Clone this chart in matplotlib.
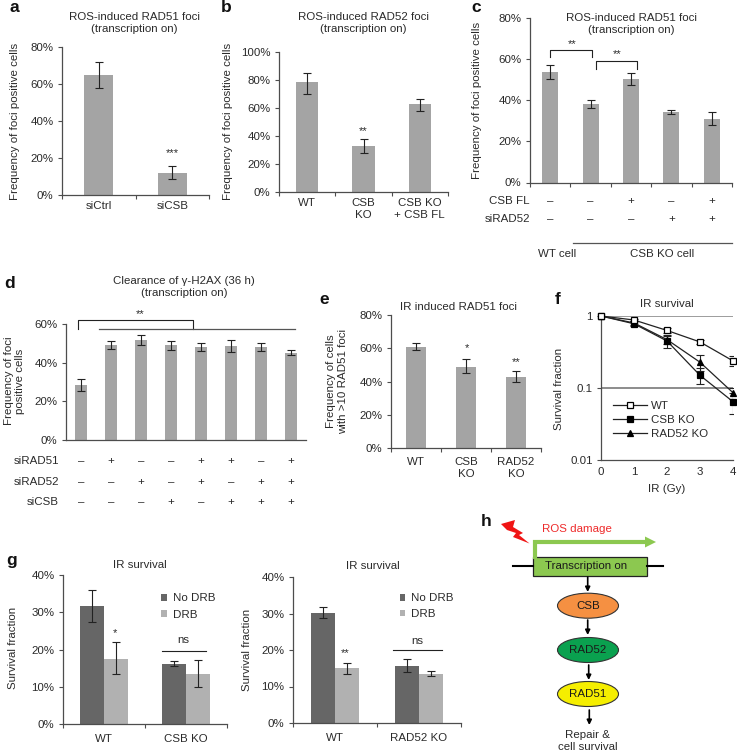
import matplotlib
matplotlib.use('Agg')
import matplotlib.pyplot as plt
from matplotlib.patches import Ellipse, Rectangle, Polygon
from matplotlib.ticker import FixedLocator, NullLocator, FixedFormatter, FuncFormatter, NullFormatter

plt.rcParams['font.family'] = ['Liberation Sans', 'DejaVu Sans']
plt.rcParams['font.size'] = 8.25

W, H = 737, 754
TXT = '#2a2a2a'; AX = '#4d4d4d'; BAR = '#a4a4a4'; DARK = '#666666'; LIGHT = '#b1b1b1'; ERR = '#222222'

# ---- data ----
a_cats = ['siCtrl', 'siCSB']
a_vals = [65, 12]; a_lo = [58, 8.5]; a_hi = [72, 15.5]
b_cats = ['WT', 'CSB\nKO', 'CSB KO\n+ CSB FL']
b_vals = [78, 32.5, 62.5]; b_lo = [70, 27.5, 58]; b_hi = [85, 37.5, 66.5]
c_vals = [53.5, 38, 50, 34, 31]; c_lo = [50, 36, 47.5, 33.3, 28]; c_hi = [57, 40, 53, 35, 34]
c_rows = ['CSB FL', 'siRAD52']
c_signs = [['–', '–', '+', '–', '+'], ['–', '–', '–', '+', '+']]
d_vals = [28.5, 49, 51.5, 49, 48, 48.8, 48.3, 45]
d_lo = [25.5, 47, 49, 46.8, 46, 45.5, 46, 43.8]
d_hi = [31.5, 51, 54.5, 51, 50, 51.5, 50, 46.5]
d_rows = ['siRAD51', 'siRAD52', 'siCSB']
d_signs = [['–', '+', '–', '–', '+', '+', '–', '+'],
           ['–', '–', '+', '–', '+', '–', '+', '+'],
           ['–', '–', '–', '+', '–', '+', '+', '+']]
e_cats = ['WT', 'CSB\nKO', 'RAD52\nKO']
e_vals = [61, 49, 43]; e_lo = [59, 45, 39.5]; e_hi = [63, 53.5, 46.5]
f_dose = [0, 1, 2, 3, 4]
f_wt = [1, .88, .63, .436, .238]; f_wt_lo = [1, .84, .58, .41, .2]; f_wt_hi = [1, .92, .68, .46, .28]
f_csb = [1, .78, .45, .15, .0645]; f_csb_lo = [1, .72, .36, .115, .043]; f_csb_hi = [1, .84, .55, .19, .085]
f_rad = [1, .8, .47, .228, .086]; f_rad_lo = [1, .74, .41, .17, .07]; f_rad_hi = [1, .86, .53, .29, .1]
g1_cats = ['WT', 'CSB KO']
g1_nodrb = [31.7, 16.2]; g1_nodrb_lo = [27.5, 15.6]; g1_nodrb_hi = [36, 17]
g1_drb = [17.5, 13.5]; g1_drb_lo = [13.3, 10]; g1_drb_hi = [22, 17.2]
g2_cats = ['WT', 'RAD52 KO']
g2_nodrb = [30.2, 15.6]; g2_nodrb_lo = [28.8, 14]; g2_nodrb_hi = [31.7, 17.4]
g2_drb = [15, 13.5]; g2_drb_lo = [13.3, 12.8]; g2_drb_hi = [16.5, 14.3]
T_ROS51 = 'ROS-induced RAD51 foci\n(transcription on)'
T_ROS52 = 'ROS-induced RAD52 foci\n(transcription on)'

fig = plt.figure(figsize=(W / 100, H / 100), dpi=100)
ov = fig.add_axes([0, 0, 1, 1], zorder=10)
ov.set_xlim(0, W); ov.set_ylim(H, 0); ov.axis('off'); ov.patch.set_alpha(0)
px = ov.transData


def T(x, y, s, ha='center', va='center', color=TXT, **kw):
    return ov.text(x, y, s, ha=ha, va=va, color=color, **kw)


def make_ax(x0, x1, ybot, ytop, ylabel, lx, ly, title, tx, ty):
    ax = fig.add_axes([x0 / W, 1 - ybot / H, (x1 - x0) / W, (ybot - ytop) / H])
    for s in ('top', 'right'):
        ax.spines[s].set_visible(False)
    for s in ('left', 'bottom'):
        ax.spines[s].set_color(AX); ax.spines[s].set_linewidth(0.9)
    ax.tick_params(axis='both', which='major', length=2.7, width=0.8, color=AX, labelcolor=TXT, pad=3.4)
    ax.patch.set_alpha(0)
    ax.set_ylabel(ylabel, color=TXT, va='center', ha='center', linespacing=1.2)
    ax.yaxis.set_label_coords(lx, ly, transform=px)
    ax.set_title(title, color=TXT, fontsize=8.25, va='center', linespacing=1.2,
                 x=(tx - x0) / (x1 - x0), y=(ybot - ty) / (ybot - ytop), pad=0)
    return ax


def pct_axis(ax, top, step):
    ax.set_ylim(0, top)
    ax.set_yticks(list(range(0, top + 1, step)))
    ax.yaxis.set_major_formatter(FuncFormatter(lambda v, p: f'{int(v)}%'))


def cat_axis(ax, n, labels=None, pad=4.6, ticks=True):
    ax.set_xlim(-0.5, n - 0.5)
    ax.set_xticks([i - 0.5 for i in range(n + 1)] if ticks else [])
    ax.set_xticklabels([] if not ticks else [''] * (n + 1))
    if labels:
        ax.set_xticks(list(range(n)), labels=labels, minor=True)
        ax.tick_params(axis='x', which='minor', length=0, pad=pad, labelcolor=TXT)
        for l in ax.get_xticklabels(minor=True):
            l.set_linespacing(1.2)


def err(ax, xs, vals, lo, hi, cap=2.9):
    ax.errorbar(xs, vals, yerr=[[v - l for v, l in zip(vals, lo)], [h - v for v, h in zip(vals, hi)]],
                fmt='none', ecolor=ERR, elinewidth=0.8, capsize=cap, capthick=0.8, zorder=5)


def bars(ax, vals, lo, hi, w=0.4):
    xs = list(range(len(vals)))
    ax.bar(xs, vals, width=w, color=BAR, zorder=2)
    err(ax, xs, vals, lo, hi)
    return xs


# a
ax = make_ax(62, 209, 195, 47, 'Frequency of foci positive cells', 15, 121, T_ROS51, 134, 23)
pct_axis(ax, 80, 20); cat_axis(ax, 2, a_cats); bars(ax, a_vals, a_lo, a_hi)
# b
ax = make_ax(279, 448, 192, 51.5, 'Frequency of foci positive cells', 228, 121, T_ROS52, 363, 23)
pct_axis(ax, 100, 20); cat_axis(ax, 3, b_cats); bars(ax, b_vals, b_lo, b_hi)
# c
ax = make_ax(530, 732, 182.5, 17.5, 'Frequency of foci positive cells', 477, 100, T_ROS51, 631, 24)
pct_axis(ax, 80, 20); cat_axis(ax, 5); xs_c = bars(ax, c_vals, c_lo, c_hi)
for row, signs, y in zip(c_rows, c_signs, (201, 219)):
    T(530, y, row, ha='right')
    for i, s in enumerate(signs):
        T(550.2 + 40.4 * i, y, s)
# d
ax = make_ax(66, 306, 440, 324, 'Frequency of foci\npositive cells', 14.5, 381,
             'Clearance of γ-H2AX (36 h)\n(transcription on)', 184, 287)
pct_axis(ax, 60, 20); cat_axis(ax, 8, ticks=False); bars(ax, d_vals, d_lo, d_hi)
ax.tick_params(axis='x', length=0)
for row, signs, y in zip(d_rows, d_signs, (461, 482, 502)):
    T(59, y, row, ha='right')
    for i, s in enumerate(signs):
        T(81 + 30 * i, y, s)
# e
ax = make_ax(391, 541, 448, 315, 'Frequency of cells\nwith >10 RAD51 foci', 337, 381, 'IR induced RAD51 foci', 458, 307)
pct_axis(ax, 80, 20); cat_axis(ax, 3, e_cats, pad=6.5); bars(ax, e_vals, e_lo, e_hi)
# f
ax = make_ax(601, 733, 460, 316, 'Survival fraction', 559, 389, 'IR survival', 667, 304)
ax.set_yscale('log'); ax.set_ylim(0.01, 1); ax.set_xlim(0, 4)
ax.yaxis.set_major_locator(FixedLocator([0.01, 0.1, 1]))
ax.yaxis.set_major_formatter(FixedFormatter(['0.01', '0.1', '1']))
ax.yaxis.set_minor_locator(NullLocator()); ax.yaxis.set_minor_formatter(NullFormatter())
ax.set_xticks(f_dose)
ax.tick_params(axis='x', length=0, pad=5)
ax.set_xlabel('IR (Gy)', color=TXT); ax.xaxis.set_label_coords(667, 489, transform=px)
ax.xaxis.label.set_va('center')
ax.axhline(0.1, color='#8c8c8c', lw=1.4, zorder=1); ax.axhline(1, color='#8c8c8c', lw=1.2, zorder=1)
series = [('CSB KO', f_csb, f_csb_lo, f_csb_hi, 's', 'k'),
          ('RAD52 KO', f_rad, f_rad_lo, f_rad_hi, '^', 'k'),
          ('WT', f_wt, f_wt_lo, f_wt_hi, 's', 'white')]
handles = {}
for name, v, lo, hi, m, fc in series:
    err(ax, f_dose, v, lo, hi, cap=2.7)
    ln, = ax.plot(f_dose, v, color='#222222', lw=0.9, marker=m, ms=4.6 if m == 's' else 4.8, mfc=fc, mec='k',
                  mew=0.9, label=name, clip_on=False, zorder=6)
    handles[name] = ln
leg = ax.legend([handles[k] for k in ('WT', 'CSB KO', 'RAD52 KO')], ['WT', 'CSB KO', 'RAD52 KO'],
                loc='center left', bbox_to_anchor=(0.09, 0.278), frameon=False, handlelength=2.97,
                labelspacing=0.375, handletextpad=0.35, borderpad=0, borderaxespad=0, labelcolor=TXT)


# g
def group(ax, nd, nl, nh, dr, dl, dh):
    w = 0.29
    xn = [i - w / 2 for i in range(2)]; xd = [i + w / 2 for i in range(2)]
    a1 = ax.bar(xn, nd, width=w, color=DARK, zorder=2, label='No DRB')
    a2 = ax.bar(xd, dr, width=w, color=LIGHT, zorder=2, label='DRB')
    err(ax, xn, nd, nl, nh); err(ax, xd, dr, dl, dh)
    return a1, a2


def g_leg(ax, anchor, spacing, tpad):
    ax.legend(loc='upper left', bbox_to_anchor=anchor, frameon=False, handlelength=0.5, handleheight=0.5,
              labelspacing=spacing, handletextpad=tpad, borderpad=0, borderaxespad=0, labelcolor=TXT)


ax = make_ax(63, 227, 724, 575, 'Survival fraction', 13, 648, 'IR survival', 140, 565)
pct_axis(ax, 40, 10); cat_axis(ax, 2, g1_cats, pad=7)
group(ax, g1_nodrb, g1_nodrb_lo, g1_nodrb_hi, g1_drb, g1_drb_lo, g1_drb_hi)
g_leg(ax, (0.598, 0.876), 0.55, 0.57)
ax = make_ax(293, 461, 723, 577, 'Survival fraction', 247, 650, 'IR survival', 373, 566)
pct_axis(ax, 40, 10); cat_axis(ax, 2, g2_cats, pad=7)
group(ax, g2_nodrb, g2_nodrb_lo, g2_nodrb_hi, g2_drb, g2_drb_lo, g2_drb_hi)
g_leg(ax, (0.634, 0.887), 0.47, 0.48)

# panel letters
for s, x, y in [('a', 14, 7), ('b', 226, 7), ('c', 476, 8), ('d', 10, 284), ('e', 324, 300),
                ('f', 558, 299), ('g', 12, 561), ('h', 486, 521)]:
    T(x, y, s, fontweight='bold', fontsize=12.5, color='#111111')

# stars, brackets
for x, y, s in [(172, 153, '***'), (363, 131, '**'), (572, 44.5, '**'), (617, 54.5, '**'), (140, 314, '**'),
                (467, 348, '*'), (516, 362, '**'), (115, 633, '*'), (345, 653, '**')]:
    T(x, y, s, fontsize=8)
T(183, 640, 'ns'); T(417, 641, 'ns')
LK = dict(color='#222222', lw=0.8)
ov.plot([550, 550, 592, 592], [57, 50, 50, 57], **LK)
ov.plot([596, 596, 637, 637], [69, 61, 61, 69], **LK)
ov.plot([78, 78, 193, 193], [329, 320, 320, 329], **LK)
ov.plot([99, 295], [329, 329], color='#555555', lw=0.9)
ov.plot([162, 206], [651, 651], **LK); ov.plot([393, 442], [650, 650], **LK)
ov.plot([573, 732], [243, 243], color='#555555', lw=0.9)
T(557, 254, 'WT cell'); T(662, 254, 'CSB KO cell')

# h diagram
GREEN = '#8cc850'
ov.plot([513, 533], [566, 566], color='k', lw=1.5); ov.plot([647, 663], [566, 566], color='k', lw=1.5)
ov.plot([535.5, 535.5, 646], [557, 542, 542], color=GREEN, lw=3, solid_joinstyle='miter')
ov.add_patch(Polygon([(645, 536.5), (656, 542), (645, 547.5)], fc=GREEN, ec='none'))
ov.add_patch(Rectangle((533, 557), 114, 19, fc=GREEN, ec='#222222', lw=0.9))
T(586, 566, 'Transcription on', color='#1a1a1a')
T(577, 529, 'ROS damage', color='#ee2a2a')
ov.add_patch(Polygon([(501, 524), (515, 520), (513, 527), (523, 533), (519, 535), (529.5, 543.5),
                      (513, 537), (516, 533), (507, 530)], fc='#f01414', ec='none'))
for yc, col, s in [(605.7, '#f59042', 'CSB'), (650, '#0aa14f', 'RAD52'), (694, '#f5ee00', 'RAD51')]:
    ov.add_patch(Ellipse((588, yc), 61, 25, fc=col, ec='#333333', lw=0.8))
    T(588, yc, s, color='#1a1a1a')
for x, y0, y1 in [(587.7, 577, 592), (587.7, 620, 635), (588.7, 665, 680), (589.3, 710, 725)]:
    ov.annotate('', xy=(x, y1), xytext=(x, y0),
                arrowprops=dict(arrowstyle='-|>', color='k', lw=1.2, mutation_scale=7, shrinkA=0, shrinkB=0))
T(588, 735, 'Repair &'); T(588, 747.5, 'cell survival')

fig.savefig('out.png', dpi=100)
